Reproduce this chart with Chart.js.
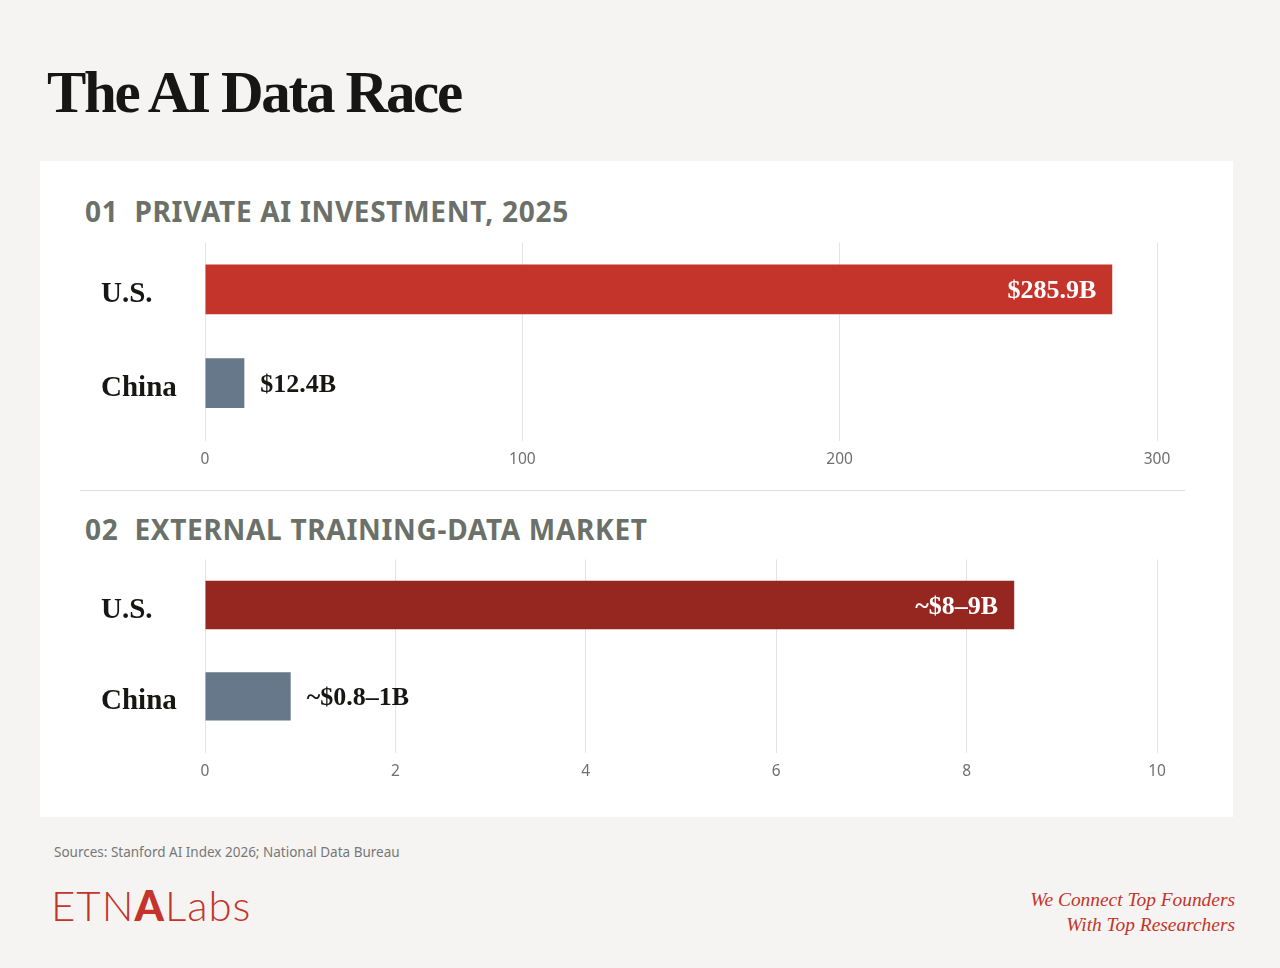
<!DOCTYPE html>
<html>
<head>
<meta charset="utf-8">
<script src="https://cdn.jsdelivr.net/npm/chart.js@4.4.1/dist/chart.umd.min.js"></script>
<style>
  html, body { margin: 0; padding: 0; }
  body { width: 1280px; height: 968px; background: #f5f4f2; position: relative; overflow: hidden; }
  .title { position: absolute; left: 47px; top: 63px; font-family: "Liberation Serif", serif; font-weight: 700;
           font-size: 59px; letter-spacing: -2.3px; color: #171614; line-height: 1; margin: 0; }
  .panel { position: absolute; left: 40px; top: 161px; width: 1193px; height: 656px; background: #fff; }
  .section { position: absolute; left: 85px; font-family: "Noto Sans", sans-serif; font-weight: 700;
             font-size: 28px; letter-spacing: 0.7px; color: #6b7068; line-height: 1; margin: 0; white-space: pre; }
  .divider { position: absolute; left: 80px; top: 490px; width: 1105px; height: 1px; background: #dddddd; }
  .chartbox { position: absolute; left: 101px; width: 1084px; }
  .sources { position: absolute; left: 54px; top: 843px; font-family: "Noto Sans", sans-serif; font-size: 13.5px; color: #777; }
  .logo { position: absolute; left: 51px; top: 884px; font-family: Lato, sans-serif; font-weight: 300;
          font-size: 42px; color: #c4342a; line-height: 1; letter-spacing: 1px; }
  .logo b { font-weight: 900; }
  .tagline { position: absolute; right: 45px; top: 887px; text-align: right; font-family: "Liberation Serif", serif;
             font-style: italic; font-size: 19.4px; line-height: 25px; color: #c4342a; }
</style>
</head>
<body>
<h1 class="title">The AI Data Race</h1>
<div class="panel"></div>
<div class="section" style="top:197px;">01  PRIVATE AI INVESTMENT, 2025</div>
<div class="chartbox" style="top:222px;height:248px;"><canvas id="investChart"></canvas></div>
<div class="divider"></div>
<div class="section" style="top:515px;">02  EXTERNAL TRAINING-DATA MARKET</div>
<div class="chartbox" style="top:539px;height:243px;"><canvas id="marketChart"></canvas></div>
<div class="sources">Sources: Stanford AI Index 2026; National Data Bureau</div>
<div class="logo">ETN<b>A</b>Labs</div>
<div class="tagline">We Connect Top Founders<br>With Top Researchers</div>

<script>
// categories shared by both panels
const countries = ['U.S.', 'China'];

// 01 private AI investment, $B
const investValues = [285.9, 12.4];
const investLabels = ['$285.9B', '$12.4B'];
const investTicks = [0, 100, 200, 300];

// 02 external training-data market, $B (midpoint of the quoted range)
const marketValues = [8.5, 0.9];
const marketLabels = ['~$8\u20139B', '~$0.8\u20131B'];
const marketTicks = [0, 2, 4, 6, 8, 10];

// value text next to / inside each bar
const valueLabelPlugin = {
    id: 'valueLabels',
    afterDatasetsDraw(chart, args, opts) {
        const ctx = chart.ctx;
        const meta = chart.getDatasetMeta(0);
        ctx.save();
        ctx.font = 'bold 26px "Liberation Serif", serif';
        ctx.textBaseline = 'middle';
        meta.data.forEach((bar, i) => {
            const text = opts.labels[i];
            if (i === 0) {
                //big bar gets the label inside
                ctx.fillStyle = '#ffffff';
                ctx.textAlign = 'right';
                ctx.fillText(text, bar.x - 16, bar.y + 2);
            } else {
                ctx.fillStyle = '#171614';
                ctx.textAlign = 'left';
                ctx.fillText(text, bar.x + 16, bar.y + 2);
            }
        });
        ctx.restore();
    }
};

function renderBarChart(elementId, values, labels, ticks, colors) {
    const ctx = document.getElementById(elementId).getContext('2d');
    return new Chart(ctx, {
        type: 'bar',
        data: {
            labels: countries,
            datasets: [{
                data: values,
                backgroundColor: colors,
                borderWidth: 0,
                barPercentage: 0.53,
                categoryPercentage: 1,
            }],
        },
        plugins: [valueLabelPlugin],
        options: {
            indexAxis: 'y',
            responsive: true,
            maintainAspectRatio: false,
            animation: false,
            layout: { padding: { left: 0, right: 28, top: 0, bottom: 0 } },
            plugins: {
                legend: { display: false },
                tooltip: { enabled: false },
                valueLabels: { labels: labels },
            },
            scales: {
                x: {
                    min: ticks[0],
                    max: ticks[ticks.length - 1],
                    afterBuildTicks: (scale) => { scale.ticks = ticks.map(v => ({ value: v })); },
                    afterFit: (scale) => { scale.height = 40; },
                    grid: { color: '#e4e4e4', lineWidth: 1, drawTicks: true, tickLength: 11, tickColor: '#e4e4e4' },
                    border: { display: false },
                    ticks: {
                        padding: 9,
                        color: '#6f6f6f',
                        font: { family: '"Noto Sans", sans-serif', size: 15.5 },
                    },
                },
                y: {
                    afterFit: (scale) => { scale.width = 104; },
                    grid: { display: false },
                    border: { display: false },
                    ticks: {
                        crossAlign: 'far',
                        labelOffset: 5,
                        color: '#171614',
                        font: { family: '"Liberation Serif", serif', size: 29, weight: 'bold' },
                    },
                },
            },
        },
    });
}

renderBarChart('investChart', investValues, investLabels, investTicks, ['#c4342a', '#667889']);
renderBarChart('marketChart', marketValues, marketLabels, marketTicks, ['#952720', '#667889']);
</script>
</body>
</html>
